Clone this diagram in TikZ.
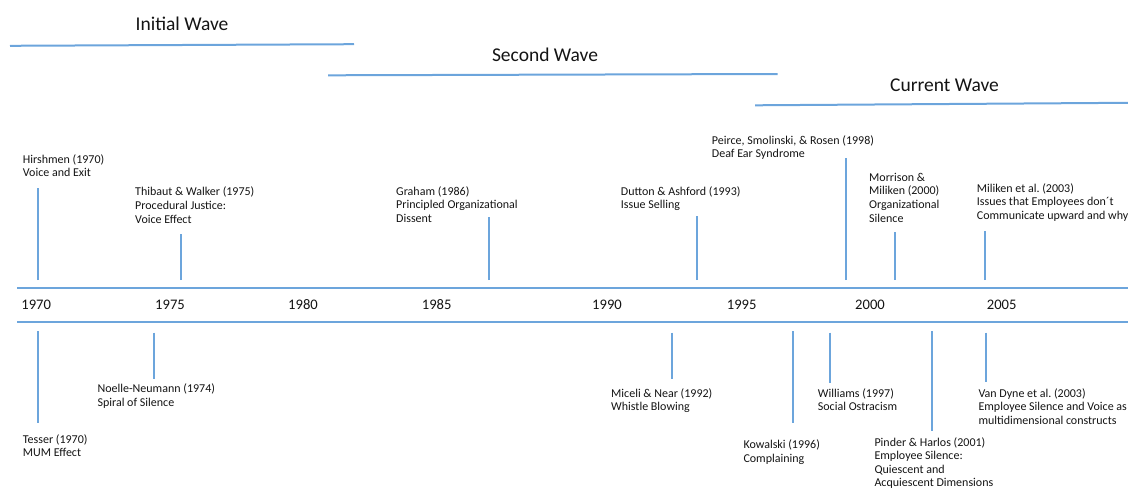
\documentclass[tikz,border=0pt]{standalone}
\usepackage{fontspec}
\setmainfont{Carlito}
\frenchspacing
\definecolor{lb}{RGB}{108,165,220}
\definecolor{tx}{RGB}{20,20,20}
\begin{document}
\begin{tikzpicture}[x=1pt,y=-1pt,
  tl/.style={draw=lb,line width=2pt},
  tick/.style={draw=lb,line width=1.8pt},
  lab/.style={anchor=base west,align=left,inner sep=0pt,text=tx,font=\fontsize{12}{13.8}\selectfont},
  yr/.style={anchor=base,inner sep=0pt,text=tx,font=\fontsize{14.6}{16}\selectfont},
  wave/.style={anchor=base,inner sep=0pt,text=tx,font=\fontsize{19.5}{22}\selectfont}]
\useasboundingbox (0,0) rectangle (1128,490);

% waves
\node[wave] (w1) at (182,30) {Initial Wave};
\node[wave] (w2) at (545,61.7) {Second Wave};
\node[wave] (w3) at (944.5,91.7) {Current Wave};
\coordinate (w1a) at (10,45.8); \coordinate (w1b) at (354,44.2);
\coordinate (w2a) at (328,75.3); \coordinate (w2b) at (777.5,74);
\coordinate (w3a) at (755,105.3); \coordinate (w3b) at (1128,102.8);
\draw[tl] (w1a) -- (w1b);
\draw[tl] (w2a) -- (w2b);
\draw[tl] (w3a) -- (w3b);

% timeline
\coordinate (ta) at (17,288); \coordinate (tb) at (1128,288);
\coordinate (ba) at (17,322); \coordinate (bb) at (1128,322);
\draw[tl] (ta) -- (tb);
\draw[tl] (ba) -- (bb);

\node[yr] (y1970) at (36.2,309.3) {1970};
\node[yr] (y1975) at (170,309.3) {1975};
\node[yr] (y1980) at (303,309.3) {1980};
\node[yr] (y1985) at (436.7,309.3) {1985};
\node[yr] (y1990) at (607,309.3) {1990};
\node[yr] (y1995) at (741.7,309.3) {1995};
\node[yr] (y2000) at (870,309.3) {2000};
\node[yr] (y2005) at (1001.7,309.3) {2005};

% upper labels (anchor = baseline of last line)
\node[lab] (hir) at (22.7,176.8) {Hirshmen (1970)\\Voice and Exit};
\node[lab] (thi) at (135,223.1) {Thibaut \& Walker (1975)\\Procedural Justice:\\Voice Effect};
\node[lab] (gra) at (396,222.6) {Graham (1986)\\Principled Organizational\\Dissent};
\node[lab] (dut) at (620.7,208.8) {Dutton \& Ashford (1993)\\Issue Selling};
\node[lab] (pei) at (711.7,157.8) {Peirce, Smolinski, \& Rosen (1998)\\Deaf Ear Syndrome};
\node[lab] (mor) at (869,222.4) {Morrison \&\\Miliken (2000)\\Organizational\\Silence};
\node[lab] (mil) at (976.7,219.6) {Miliken et al. (2003)\\Issues that Employees don´t\\Communicate upward and why};

% lower labels
\node[lab] (tes) at (22.7,456.8) {Tesser (1970)\\MUM Effect};
\node[lab] (noe) at (97.3,406.7) {Noelle-Neumann (1974)\\Spiral of Silence};
\node[lab] (mic) at (611,410.8) {Miceli \& Near (1992)\\Whistle Blowing};
\node[lab] (kow) at (743.3,462.3) {Kowalski (1996)\\Complaining};
\node[lab] (wil) at (817.7,410.8) {Williams (1997)\\Social Ostracism};
\node[lab,font=\fontsize{12}{13.5}\selectfont] (pin) at (874.3,486.5) {Pinder \& Harlos (2001)\\Employee Silence:\\Quiescent and\\Acquiescent Dimensions};
\node[lab] (van) at (978.3,424.6) {Van Dyne et al. (2003)\\Employee Silence and Voice as\\multidimensional constructs};

% upper ticks
\coordinate (hir0) at (37.7,280); \coordinate (hir1) at (37.7,188);
\coordinate (thi0) at (180.7,280); \coordinate (thi1) at (180.7,234);
\coordinate (gra0) at (488.7,280); \coordinate (gra1) at (488.7,216.5);
\coordinate (dut0) at (696.7,280); \coordinate (dut1) at (696.7,216);
\coordinate (pei0) at (845.7,280); \coordinate (pei1) at (845.7,158);
\coordinate (mor0) at (894.7,280); \coordinate (mor1) at (894.7,232);
\coordinate (mil0) at (985.3,280); \coordinate (mil1) at (985.3,230.7);
\foreach \n in {hir,thi,gra,dut,pei,mor,mil} \draw[tick] (\n0) -- (\n1);

% lower ticks
\coordinate (tes0) at (37.7,331); \coordinate (tes1) at (37.7,423.3);
\coordinate (noe0) at (154,332.7); \coordinate (noe1) at (154,379);
\coordinate (mic0) at (671.7,332.7); \coordinate (mic1) at (671.7,379);
\coordinate (kow0) at (792.7,331); \coordinate (kow1) at (792.7,423.3);
\coordinate (wil0) at (830,332.7); \coordinate (wil1) at (830,382.7);
\coordinate (pin0) at (931.7,331); \coordinate (pin1) at (931.7,430.7);
\coordinate (van0) at (985.7,332.7); \coordinate (van1) at (985.7,382.3);
\foreach \n in {tes,noe,mic,kow,wil,pin,van} \draw[tick] (\n0) -- (\n1);
\end{tikzpicture}
\end{document}
